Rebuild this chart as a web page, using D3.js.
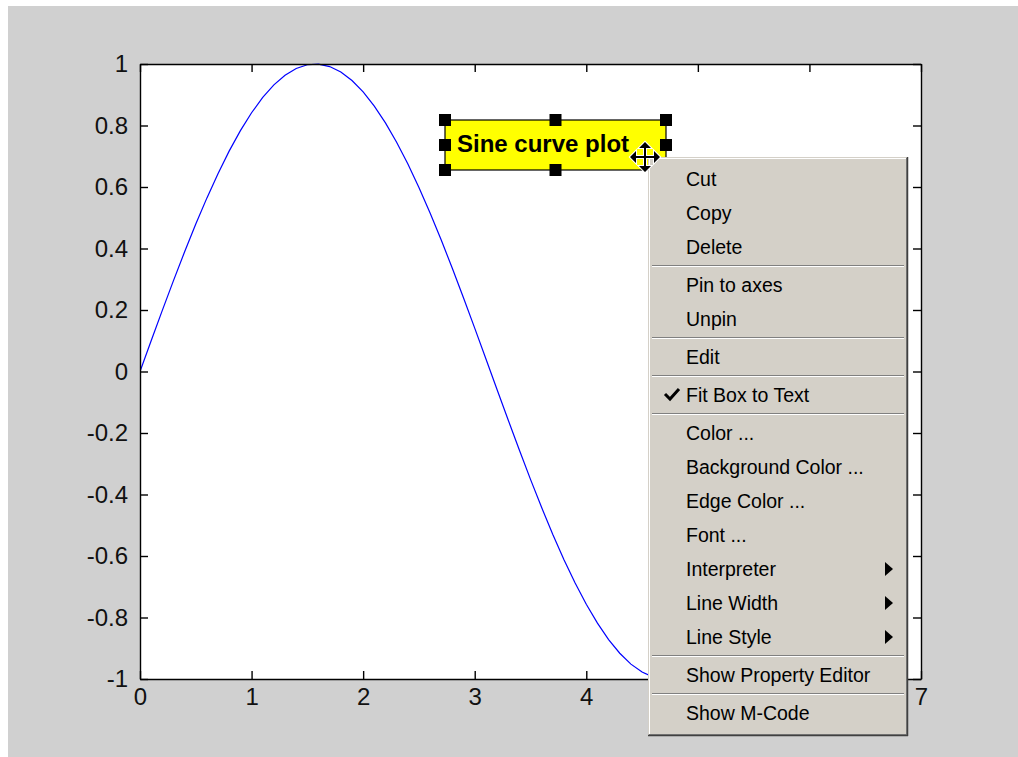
<!DOCTYPE html>
<html><head><meta charset="utf-8">
<script src="https://cdn.jsdelivr.net/npm/d3@7"></script>
<style>html,body{margin:0;padding:0;background:#fff;overflow:hidden}</style>
</head><body><svg id="c" width="1018" height="757"></svg>
<script>
// ---- data ----
const xValues = [0,0.1,0.2,0.3,0.4,0.5,0.6,0.7,0.8,0.9,1.0,1.1,1.2,1.3,1.4,1.5,1.6,1.7,1.8,1.9,2.0,2.1,2.2,2.3,2.4,2.5,2.6,2.7,2.8,2.9,3.0,3.1,3.2,3.3,3.4,3.5,3.6,3.7,3.8,3.9,4.0,4.1,4.2,4.3,4.4,4.5,4.6,4.7,4.8,4.9,5.0,5.1,5.2,5.3,5.4,5.5,5.6,5.7,5.8,5.9,6.0,6.1,6.2];
const yValues = [0,0.0998,0.1987,0.2955,0.3894,0.4794,0.5646,0.6442,0.7174,0.7833,0.8415,0.8912,0.9320,0.9636,0.9854,0.9975,0.9996,0.9917,0.9738,0.9463,0.9093,0.8632,0.8085,0.7457,0.6755,0.5985,0.5155,0.4274,0.3350,0.2392,0.1411,0.0416,-0.0584,-0.1577,-0.2555,-0.3508,-0.4425,-0.5298,-0.6119,-0.6878,-0.7568,-0.8183,-0.8716,-0.9162,-0.9516,-0.9775,-0.9937,-1.0000,-0.9962,-0.9825,-0.9589,-0.9258,-0.8835,-0.8323,-0.7728,-0.7055,-0.6313,-0.5507,-0.4646,-0.3739,-0.2794,-0.1822,-0.0831];
const xTicks = [0,1,2,3,4,5,6,7];
const xTickLabels = ["0","1","2","3","4","5","6","7"];
const yTicks = [-1,-0.8,-0.6,-0.4,-0.2,0,0.2,0.4,0.6,0.8,1];
const yTickLabels = ["-1","-0.8","-0.6","-0.4","-0.2","0","0.2","0.4","0.6","0.8","1"];
const annotationText = "Sine curve plot";
const menuLabels = ["Cut","Copy","Delete","-","Pin to axes","Unpin","-","Edit","-","Fit Box to Text","-","Color ...","Background Color ...","Edge Color ...","Font ...","Interpreter","Line Width","Line Style","-","Show Property Editor","-","Show M-Code"];
const checkedItems = ["Fit Box to Text"];
const submenuItems = ["Interpreter","Line Width","Line Style"];

// ---- layout ----
const W = 1018, H = 757;
const FONT = "'Liberation Sans', Arial, Helvetica, sans-serif";
const svg = d3.select("#c");
const x = d3.scaleLinear().domain([0,7]).range([140,921]);
const y = d3.scaleLinear().domain([-1,1]).range([679,64]);

// context menu geometry (needed to hide what it covers)
const mx0 = 648, my0 = 157, mw = 260, itemH = 34, sepH = 4, padTop = 5;

svg.append("rect").attr("width",W).attr("height",H).attr("fill","#ffffff");
svg.append("rect").attr("x",8).attr("y",6).attr("width",W-8).attr("height",H-6).attr("fill","#d0d0d0");

// axes background
svg.append("rect").attr("x",x(0)).attr("y",y(1)).attr("width",x(7)-x(0)).attr("height",y(-1)-y(1)).attr("fill","#ffffff");

svg.append("clipPath").attr("id","clip").append("rect")
  .attr("x",x(0)).attr("y",y(1)-1).attr("width",x(7)-x(0)).attr("height",y(-1)-y(1)+2);

const pts = xValues.map((v,i)=>[v,yValues[i]]);
svg.append("path").datum(pts).attr("clip-path","url(#clip)")
  .attr("fill","none").attr("stroke","#0000ff").attr("stroke-width",1.2)
  .attr("d", d3.line().x(d=>x(d[0])).y(d=>y(d[1])));

function styleAxis(g){
  g.attr("font-family",FONT).attr("font-size",24);
  g.selectAll("path,line").attr("stroke","#000").attr("stroke-width",1.4);
  g.selectAll("text").attr("fill","#111");
}
const xAxisG = svg.append("g").attr("transform",`translate(0,${y(-1)})`)
  .call(d3.axisBottom(x).tickValues(xTicks).tickFormat((d,i)=>xTickLabels[i]).tickSizeInner(-8).tickSizeOuter(0).tickPadding(9))
  .call(styleAxis);
// labels lying under the open context menu are not visible in the picture
xAxisG.selectAll(".tick").filter(d=>x(d)>mx0 && x(d)<mx0+mw-10).select("text").remove();

svg.append("g").attr("transform",`translate(${x(0)},0)`)
  .call(d3.axisLeft(y).tickValues(yTicks).tickFormat((d,i)=>yTickLabels[i]).tickSizeInner(-8).tickSizeOuter(0).tickPadding(12))
  .call(styleAxis);
svg.append("g").attr("transform",`translate(0,${y(1)})`)
  .call(d3.axisTop(x).tickValues(xTicks).tickFormat("").tickSizeInner(-8).tickSizeOuter(0))
  .call(styleAxis);
svg.append("g").attr("transform",`translate(${x(7)},0)`)
  .call(d3.axisRight(y).tickValues(yTicks).tickFormat("").tickSizeInner(-8).tickSizeOuter(0))
  .call(styleAxis);

// ---- annotation text box ----
const bx0 = 445, bx1 = 666, by0 = 120, by1 = 170;
const ann = svg.append("g");
ann.append("rect").attr("x",bx0).attr("y",by0).attr("width",bx1-bx0).attr("height",by1-by0)
  .attr("fill","#ffff00").attr("stroke","#000").attr("stroke-width",1.2);
ann.append("text").attr("x",457).attr("y",151.5).attr("font-family",FONT).attr("font-weight","bold")
  .attr("font-size",24).attr("fill","#000").text(annotationText);
const hx = [bx0,(bx0+bx1)/2,bx1], hy = [by0,(by0+by1)/2,by1];
hx.forEach((hxv,i)=>hy.forEach((hyv,j)=>{
  if(i===1 && j===1) return;
  ann.append("rect").attr("x",hxv-6).attr("y",hyv-6).attr("width",12).attr("height",12).attr("fill","#000");
}));

// ---- context menu ----
let yy = my0 + padTop;
const rows = menuLabels.map(l=>{
  const r = {label:l, y:yy, sep:l==="-"};
  yy += r.sep ? sepH : itemH;
  return r;
});
const mh = yy + padTop - my0 + 1;
const menu = svg.append("g");
menu.append("rect").attr("x",mx0).attr("y",my0).attr("width",mw).attr("height",mh).attr("fill","#d4d0c8");
menu.append("line").attr("x1",mx0+1.5).attr("x2",mx0+1.5).attr("y1",my0+1).attr("y2",my0+mh-2).attr("stroke","#ffffff").attr("stroke-width",1);
menu.append("line").attr("x1",mx0+1).attr("x2",mx0+mw-2).attr("y1",my0+1.5).attr("y2",my0+1.5).attr("stroke","#ffffff").attr("stroke-width",1);
menu.append("line").attr("x1",mx0+mw-1.5).attr("x2",mx0+mw-1.5).attr("y1",my0+1).attr("y2",my0+mh-1).attr("stroke","#808080").attr("stroke-width",1);
menu.append("line").attr("x1",mx0+1).attr("x2",mx0+mw-1).attr("y1",my0+mh-1.5).attr("y2",my0+mh-1.5).attr("stroke","#808080").attr("stroke-width",1);
menu.append("line").attr("x1",mx0+mw-0.5).attr("x2",mx0+mw-0.5).attr("y1",my0).attr("y2",my0+mh).attr("stroke","#404040").attr("stroke-width",1.5);
menu.append("line").attr("x1",mx0).attr("x2",mx0+mw).attr("y1",my0+mh-0.5).attr("y2",my0+mh-0.5).attr("stroke","#404040").attr("stroke-width",1.5);

rows.forEach(r=>{
  if(r.sep){
    menu.append("line").attr("x1",mx0+4).attr("x2",mx0+mw-4).attr("y1",r.y+1.5).attr("y2",r.y+1.5).attr("stroke","#808080");
    menu.append("line").attr("x1",mx0+4).attr("x2",mx0+mw-4).attr("y1",r.y+2.5).attr("y2",r.y+2.5).attr("stroke","#ffffff");
    return;
  }
  const cy = r.y + itemH/2;
  menu.append("text").attr("x",mx0+38).attr("y",cy+7).attr("font-family",FONT).attr("font-size",19.5)
    .attr("fill","#000").text(r.label);
  if(checkedItems.includes(r.label)){
    menu.append("path").attr("d",`M${mx0+17},${cy-1} L${mx0+22},${cy+4} L${mx0+31},${cy-6}`)
      .attr("fill","none").attr("stroke","#000").attr("stroke-width",3);
  }
  if(submenuItems.includes(r.label)){
    menu.append("path").attr("d",`M${mx0+237},${cy-7} L${mx0+245},${cy} L${mx0+237},${cy+7} Z`).attr("fill","#000");
  }
});

// ---- move cursor ----
svg.append("path").attr("transform","translate(645,157)")
  .attr("d","M-15,0 L-9,-6 L-9,-1 L-1,-1 L-1,-9 L-6,-9 L0,-15 L6,-9 L1,-9 L1,-1 L9,-1 L9,-6 L15,0 L9,6 L9,1 L1,1 L1,9 L6,9 L0,15 L-6,9 L-1,9 L-1,1 L-9,1 L-9,6 Z")
  .attr("fill","#000").attr("stroke","#fff").attr("stroke-width",2).attr("paint-order","stroke").attr("stroke-linejoin","miter");
</script></body></html>
